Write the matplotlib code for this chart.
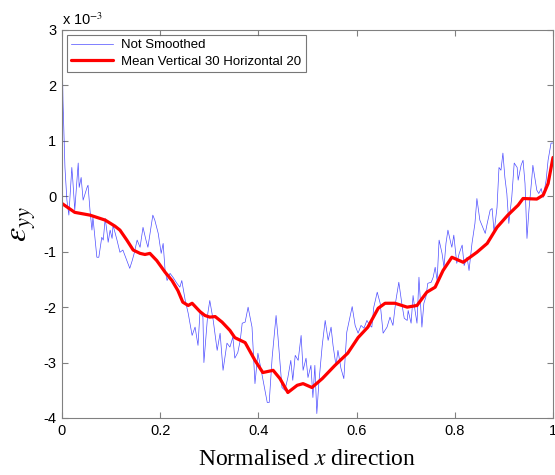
import matplotlib
matplotlib.use("Agg")
import matplotlib.pyplot as plt
from matplotlib.ticker import FuncFormatter
import numpy as np

# Not smoothed strain (units of 1e-3)
raw_x = [0.000, 0.002, 0.006, 0.010, 0.014, 0.020, 0.022, 0.026, 0.033, 0.035,
         0.039, 0.043, 0.051, 0.053, 0.057, 0.061, 0.063, 0.071, 0.075, 0.081,
         0.084, 0.088, 0.092, 0.094, 0.098, 0.102, 0.104, 0.112, 0.118, 0.124,
         0.132, 0.138, 0.143, 0.147, 0.153, 0.159, 0.165, 0.171, 0.175, 0.185,
         0.189, 0.196, 0.202, 0.206, 0.210, 0.214, 0.220, 0.226, 0.234, 0.240,
         0.244, 0.251, 0.257, 0.265, 0.271, 0.277, 0.281, 0.287, 0.289, 0.297,
         0.301, 0.308, 0.316, 0.322, 0.328, 0.336, 0.342, 0.348, 0.352, 0.358,
         0.363, 0.367, 0.373, 0.379, 0.387, 0.393, 0.399, 0.407, 0.418, 0.422,
         0.428, 0.436, 0.440, 0.448, 0.454, 0.460, 0.466, 0.470, 0.475, 0.481,
         0.487, 0.491, 0.497, 0.501, 0.507, 0.511, 0.515, 0.519, 0.523, 0.530,
         0.536, 0.542, 0.548, 0.552, 0.558, 0.562, 0.568, 0.574, 0.580, 0.585,
         0.591, 0.597, 0.603, 0.609, 0.615, 0.621, 0.627, 0.631, 0.635, 0.642,
         0.648, 0.654, 0.662, 0.668, 0.674, 0.680, 0.686, 0.692, 0.697, 0.703,
         0.705, 0.711, 0.715, 0.719, 0.723, 0.727, 0.733, 0.737, 0.741, 0.745,
         0.752, 0.756, 0.760, 0.764, 0.768, 0.774, 0.778, 0.782, 0.786, 0.792,
         0.794, 0.798, 0.804, 0.809, 0.815, 0.819, 0.825, 0.829, 0.835, 0.841,
         0.845, 0.851, 0.857, 0.862, 0.866, 0.872, 0.876, 0.880, 0.886, 0.890,
         0.894, 0.898, 0.902, 0.906, 0.910, 0.916, 0.921, 0.927, 0.929, 0.935,
         0.939, 0.943, 0.947, 0.951, 0.957, 0.959, 0.963, 0.967, 0.971, 0.976,
         0.980, 0.986, 0.990, 0.996, 1.000]
raw_y = [2.82, 1.73, 0.52, -0.07, -0.34, 0.52, 0.29, -0.25, 0.60, 0.16,
         0.34, -0.07, 0.16, 0.20, -0.25, -0.61, -0.38, -1.10, -1.10, -0.74,
         -0.79, -0.40, -0.67, -0.83, -0.61, -0.76, -0.52, -0.79, -1.01, -0.97,
         -1.16, -1.30, -1.16, -1.03, -0.79, -0.92, -0.56, -0.79, -0.92, -0.34,
         -0.43, -0.67, -1.03, -0.85, -1.34, -1.52, -1.39, -1.46, -1.57, -1.64,
         -1.52, -1.88, -2.11, -2.51, -2.36, -2.69, -2.09, -2.18, -3.00, -2.11,
         -1.88, -2.24, -2.78, -2.47, -3.14, -2.65, -2.72, -2.54, -2.92, -2.82,
         -2.60, -2.29, -2.27, -2.00, -2.36, -3.38, -2.83, -3.20, -3.72, -3.72,
         -2.91, -2.15, -2.55, -3.45, -3.50, -3.27, -2.96, -3.32, -2.87, -2.96,
         -2.51, -3.14, -2.92, -3.27, -3.05, -3.63, -3.05, -3.92, -3.38, -2.69,
         -2.24, -2.60, -2.36, -2.69, -3.05, -2.78, -3.10, -3.29, -2.45, -2.24,
         -1.99, -2.33, -2.47, -2.33, -2.38, -2.24, -2.33, -2.36, -2.00, -1.73,
         -1.93, -2.47, -2.36, -2.18, -2.33, -1.88, -1.55, -1.93, -2.20, -2.24,
         -2.06, -2.29, -1.79, -2.06, -2.29, -1.46, -2.36, -1.93, -1.82, -1.57,
         -1.55, -1.46, -1.28, -1.52, -0.79, -1.03, -1.28, -0.85, -0.61, -0.85,
         -0.92, -0.70, -1.21, -1.03, -0.88, -1.25, -1.10, -1.34, -0.85, -0.49,
         -0.04, -0.43, -0.56, -0.67, -0.49, -0.25, -0.22, -0.65, -0.20, 0.52,
         0.47, 0.78, 0.34, 0.05, -0.49, -0.02, 0.60, 0.52, 0.29, 0.56,
         0.65, 0.23, -0.76, -0.25, 0.34, 0.56, 0.34, 0.11, 0.05, 0.14,
         -0.02, 0.29, 0.65, 0.96, 0.96]

# Mean Vertical 30 Horizontal 20 (units of 1e-3)
mean_x = [0.000, 0.026, 0.057, 0.088, 0.108, 0.118, 0.132, 0.145, 0.159, 0.169, 0.179, 0.193,
          0.210, 0.224, 0.236, 0.246, 0.257, 0.265, 0.281, 0.291, 0.301, 0.312, 0.326, 0.342,
          0.352, 0.373, 0.393, 0.409, 0.430, 0.444, 0.460, 0.479, 0.491, 0.509, 0.530, 0.556,
          0.582, 0.603, 0.623, 0.644, 0.658, 0.678, 0.703, 0.723, 0.743, 0.760, 0.776, 0.794,
          0.817, 0.845, 0.866, 0.886, 0.908, 0.929, 0.939, 0.967, 0.980, 0.990, 1.000]
mean_y = [-0.13, -0.29, -0.34, -0.43, -0.54, -0.61, -0.79, -0.97, -1.03, -1.05, -1.03, -1.16,
          -1.37, -1.52, -1.70, -1.91, -1.97, -1.93, -2.08, -2.15, -2.18, -2.17, -2.27, -2.42,
          -2.55, -2.64, -2.96, -3.18, -3.14, -3.29, -3.54, -3.41, -3.38, -3.45, -3.29, -3.05,
          -2.83, -2.55, -2.36, -2.02, -1.93, -1.93, -2.00, -1.97, -1.73, -1.64, -1.34, -1.10,
          -1.19, -1.01, -0.85, -0.56, -0.34, -0.16, -0.04, -0.05, 0.02, 0.23, 0.70]

y_ticks = [-4, -3, -2, -1, 0, 1, 2, 3]
x_ticks = [0, 0.2, 0.4, 0.6, 0.8, 1]
x_tick_labels = ['0', '0.2', '0.4', '0.6', '0.8', '1']

plt.rcParams['font.family'] = ['Liberation Sans', 'DejaVu Sans']
plt.rcParams['mathtext.fontset'] = 'stix'

fig = plt.figure(figsize=(5.55, 4.75), dpi=100)
ax = fig.add_axes([62/555, 57/475, 491/555, 388/475])

scale = 1e-3
ax.plot(raw_x, np.array(raw_y) * scale, color='#0000ff', lw=0.5, alpha=0.7,
        label='Not Smoothed')
ax.plot(mean_x, np.array(mean_y) * scale, color='#ff0000', lw=2.3,
        solid_joinstyle='round', solid_capstyle='round',
        label='Mean Vertical 30 Horizontal 20')

ax.set_xlim(0, 1)
ax.set_ylim(-4e-3, 3e-3)
ax.set_xticks(x_ticks)
ax.set_xticklabels(x_tick_labels)
ax.set_yticks([t * scale for t in y_ticks])
ax.yaxis.set_major_formatter(FuncFormatter(lambda v, p: f"{v/scale:.0f}"))

for s in ax.spines.values():
    s.set_color('#808080')
    s.set_linewidth(0.8)
ax.tick_params(direction='in', length=4, width=0.8, color='#808080',
               top=True, right=True, labelsize=10.5, labelcolor='black', pad=4)

ax.text(0.0, 1.005, r'x 10$^{-3}$', transform=ax.transAxes, fontsize=10.5,
        ha='left', va='bottom')

ax.set_xlabel(r'Normalised $x$ direction', fontsize=17, family='Liberation Serif', labelpad=8)
ax.set_ylabel(r'$\varepsilon_{yy}$', fontsize=23, labelpad=4)

leg = ax.legend(loc='upper left', fontsize=9.5, frameon=True, fancybox=False,
                borderpad=0.35, handlelength=3.2, labelspacing=0.3,
                borderaxespad=0.35, handletextpad=0.6)
leg.get_frame().set_edgecolor('#555555')
leg.get_frame().set_linewidth(0.8)

fig.savefig('out.png', dpi=100)
